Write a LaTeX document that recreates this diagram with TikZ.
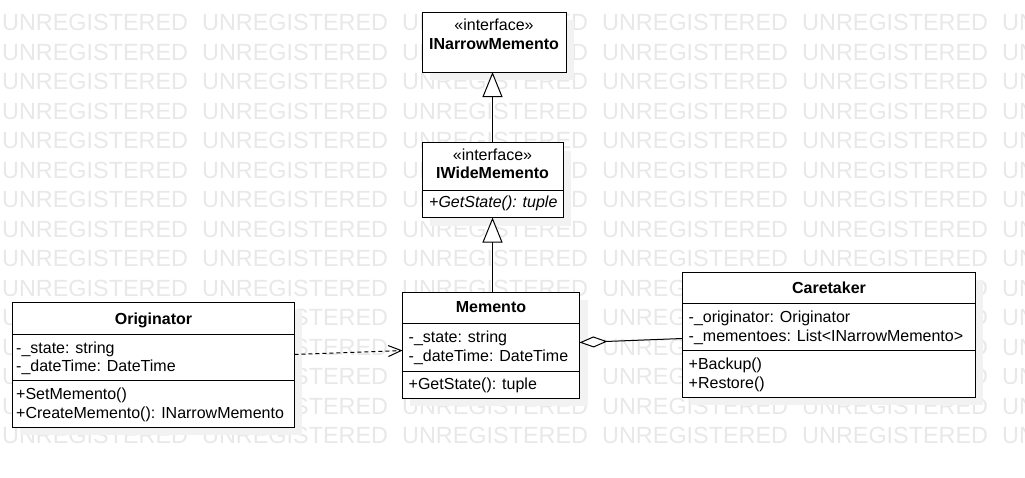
\documentclass[tikz,border=0pt]{standalone}
\usepackage{fontspec}
\setmainfont{Liberation Sans}
\usetikzlibrary{arrows.meta,calc}
\begin{document}
\begin{tikzpicture}[x=1pt,y=-1pt,
  classbox/.style={draw=black,fill=white,line width=1pt,inner sep=0pt,outer sep=0pt,anchor=north west},
  shade/.style={fill=black!5,draw=none},
  wm/.style={text=black!9,font=\fontsize{23.4}{26}\selectfont,anchor=base west,inner sep=0pt},
  lbl/.style={font=\fontsize{16}{18}\selectfont,anchor=base west,inner sep=0pt},
  ctr/.style={font=\fontsize{16}{18}\selectfont,anchor=base,inner sep=0pt},
  ttl/.style={font=\fontsize{16}{18}\selectfont\bfseries,anchor=base,inner sep=0pt},
  divider/.style={line width=1pt},
  inherit/.style={line width=1pt,-{Triangle[open,length=25pt,width=20pt,fill=white]}},
  depend/.style={line width=1pt,dash pattern=on 4pt off 3pt,-{Straight Barb[length=13pt,width=11pt]}},
  aggreg/.style={line width=1pt,{Diamond[open,length=28pt,width=11pt,fill=white]}-}
]
\useasboundingbox (0,0) rectangle (1025,477);
\begin{scope}
\clip (0,0) rectangle (1025,477);
% watermark
\foreach \r in {1,...,15}{
  \foreach \c in {0,...,5}{
    \node[wm] (wm-\r-\c) at ({2+200*\c},{30.5+29.5*(\r-1)}) {UNREGISTERED};
  }
}
\end{scope}
% shadows
\fill[shade] (430,20) rectangle (574,80);
\fill[shade] (430,151) rectangle (571,226);
\fill[shade] (410,300) rectangle (588,406);
\fill[shade] (20,310) rectangle (302,435);
\fill[shade] (690,280) rectangle (983,405);

% INarrowMemento
\node[classbox,minimum width=144pt,minimum height=60pt] (inarrow) at (422,12) {};
\node[ctr] (inarrow-st) at (494,30.5) {«interface»};
\node[ttl] (inarrow-name) at (494,49) {INarrowMemento};

% IWideMemento
\node[classbox,minimum width=141pt,minimum height=75pt] (iwide) at (422,142.5) {};
\node[ctr] (iwide-st) at (492.5,160.5) {«interface»};
\node[ttl] (iwide-name) at (492.5,178.5) {IWideMemento};
\draw[divider] (iwide.west |- 0,190.5) -- (iwide.east |- 0,190.5);
\node[lbl] (iwide-m1) at (429,207.5) {\itshape +GetState(): tuple};

% Memento
\node[classbox,minimum width=177pt,minimum height=106pt] (mem) at (402.5,292.5) {};
\node[ttl] (mem-name) at (491,312.5) {Memento};
\draw[divider] (mem.west |- 0,323.5) -- (mem.east |- 0,323.5);
\node[lbl] (mem-a1) at (408.5,342.5) {-\_state: string};
\node[lbl] (mem-a2) at (408.5,361.5) {-\_dateTime: DateTime};
\draw[divider] (mem.west |- 0,371.5) -- (mem.east |- 0,371.5);
\node[lbl] (mem-m1) at (408.5,389) {+GetState(): tuple};

% Originator
\node[classbox,minimum width=282pt,minimum height=125pt] (orig) at (12.5,302.5) {};
\node[ttl] (orig-name) at (153.5,324) {Originator};
\draw[divider] (orig.west |- 0,334) -- (orig.east |- 0,334);
\node[lbl] (orig-a1) at (16,353) {-\_state: string};
\node[lbl] (orig-a2) at (16,371.5) {-\_dateTime: DateTime};
\draw[divider] (orig.west |- 0,380) -- (orig.east |- 0,380);
\node[lbl] (orig-m1) at (16,399.5) {+SetMemento()};
\node[lbl] (orig-m2) at (16,418) {+CreateMemento(): INarrowMemento};

% Caretaker
\node[classbox,minimum width=293pt,minimum height=125pt] (care) at (682.5,272.5) {};
\node[ttl] (care-name) at (829,293.5) {Caretaker};
\draw[divider] (care.west |- 0,303.5) -- (care.east |- 0,303.5);
\node[lbl] (care-a1) at (688.5,322.5) {-\_originator: Originator};
\node[lbl] (care-a2) at (688.5,341.5) {-\_mementoes: List<INarrowMemento>};
\draw[divider] (care.west |- 0,350.5) -- (care.east |- 0,350.5);
\node[lbl] (care-m1) at (688.5,369.5) {+Backup()};
\node[lbl] (care-m2) at (688.5,388.5) {+Restore()};

% connectors
\draw[inherit] (iwide.north) -- (iwide.north |- inarrow.south);
\draw[inherit] (iwide.south |- mem.north) -- (iwide.south);
\draw[depend] ($(orig.north east)+(0,52)$) -- ($(mem.north west)+(0,58)$);
\draw[aggreg] ($(mem.north east)+(0,50)$) -- ($(care.north west)+(0,66)$);
\end{tikzpicture}
\end{document}
